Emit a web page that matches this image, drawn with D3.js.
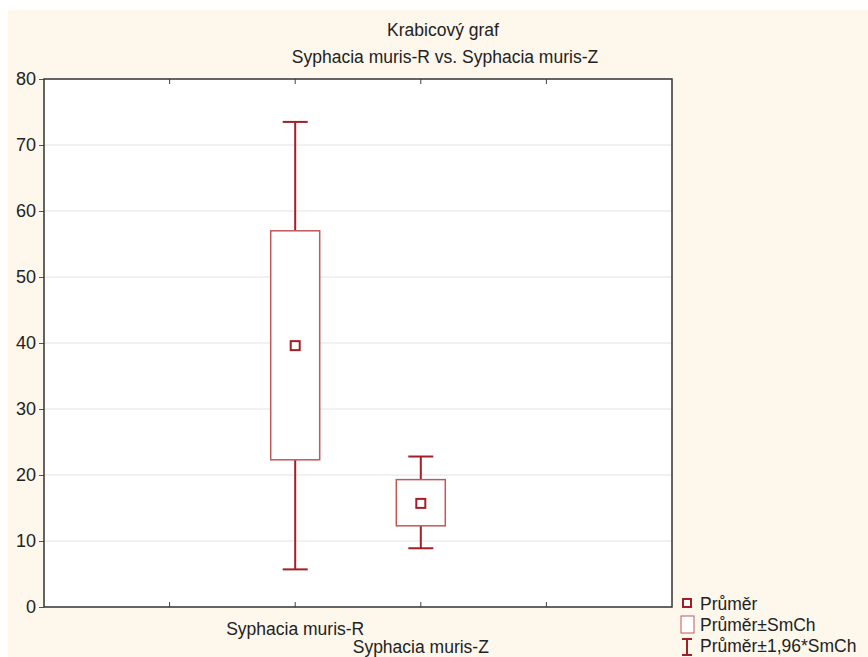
<!DOCTYPE html>
<html>
<head>
<meta charset="utf-8">
<script src="https://d3js.org/d3.v7.min.js"></script>
<style>
  body { margin: 0; background: #fff; }
  text { font-family: "Liberation Sans", Arial, sans-serif; fill: #222; }
</style>
</head>
<body>
<svg id="chart" width="868" height="657"></svg>
<script>
    var categories = ["Syphacia muris-R", "Syphacia muris-Z"];
    var means = [39.6, 15.7];
    var seLow = [22.3, 12.3];
    var seHigh = [57.0, 19.3];
    var ciLow = [5.7, 8.9];
    var ciHigh = [73.5, 22.8];
    var yTicks = [0, 10, 20, 30, 40, 50, 60, 70, 80];
    var legendLabels = ["Průměr", "Průměr±SmCh", "Průměr±1,96*SmCh"];

    var svg = d3.select("#chart");
    var margin = { top: 79, left: 44, right: 196, bottom: 50 };
    var width = 868 - margin.left - margin.right;
    var height = 657 - margin.top - margin.bottom;

    var boxCol = "#c0585a";
    var lineCol = "#a31f27";

    // cream background
    svg.append("rect").attr("x", 8).attr("y", 10).attr("width", 860).attr("height", 647)
        .attr("fill", "#fdf7ec");

    svg.append("text").attr("x", 443).attr("y", 36).attr("text-anchor", "middle")
        .attr("font-size", 17.5).text("Krabicový graf");
    svg.append("text").attr("x", 445).attr("y", 63).attr("text-anchor", "middle")
        .attr("font-size", 17.5).text(categories[0] + " vs. " + categories[1]);

    var g = svg.append("g").attr("transform", "translate(" + margin.left + "," + margin.top + ")");

    var x = d3.scaleLinear().domain([0, 5]).range([0, width]);
    var y = d3.scaleLinear().domain([0, 80]).range([height, 0]);

    g.append("rect").attr("width", width).attr("height", height).attr("fill", "#fff");

    // grid
    g.selectAll(".grid").data(yTicks.slice(1, -1)).enter().append("line")
        .attr("x1", 0).attr("x2", width)
        .attr("y1", d => y(d)).attr("y2", d => y(d))
        .attr("stroke", "#e2e2e2").attr("stroke-width", 1);

    // y axis
    var yAxis = g.append("g").call(d3.axisLeft(y).tickValues(yTicks).tickSize(5).tickPadding(3));
    yAxis.select(".domain").remove();
    yAxis.selectAll("line").attr("stroke", "#555");
    yAxis.selectAll("text").attr("font-size", 18).attr("fill", "#222")
        .style("font-family", "Liberation Sans, Arial, sans-serif");

    // x ticks, bottom and top
    var xt = [1, 2, 3, 4];
    g.selectAll(".xtb").data(xt).enter().append("line")
        .attr("x1", d => x(d)).attr("x2", d => x(d))
        .attr("y1", height).attr("y2", height - 5).attr("stroke", "#444");
    g.selectAll(".xtt").data(xt).enter().append("line")
        .attr("x1", d => x(d)).attr("x2", d => x(d))
        .attr("y1", 0).attr("y2", 5).attr("stroke", "#444");

    // frame
    g.append("rect").attr("width", width).attr("height", height)
        .attr("fill", "none").attr("stroke", "#333").attr("stroke-width", 1.5);

    // category labels (staggered)
    g.selectAll(".cat").data(categories).enter().append("text")
        .attr("x", (d, i) => x(i + 2))
        .attr("y", (d, i) => height + 28 + i * 18)
        .attr("text-anchor", "middle").attr("font-size", 17.5)
        .text(d => d);

    var bw = 49, cap = 25, ms = 9;
    categories.forEach(function (c, i) {
        var cx = x(i + 2);
        // whiskers
        g.append("line").attr("x1", cx).attr("x2", cx).attr("y1", y(ciHigh[i])).attr("y2", y(seHigh[i]))
            .attr("stroke", lineCol).attr("stroke-width", 2);
        g.append("line").attr("x1", cx).attr("x2", cx).attr("y1", y(seLow[i])).attr("y2", y(ciLow[i]))
            .attr("stroke", lineCol).attr("stroke-width", 2);
        [ciHigh[i], ciLow[i]].forEach(function (v) {
            g.append("line").attr("x1", cx - cap / 2).attr("x2", cx + cap / 2)
                .attr("y1", y(v)).attr("y2", y(v))
                .attr("stroke", lineCol).attr("stroke-width", 2);
        });
        // box
        g.append("rect").attr("x", cx - bw / 2).attr("y", y(seHigh[i]))
            .attr("width", bw).attr("height", y(seLow[i]) - y(seHigh[i]))
            .attr("fill", "#fff").attr("stroke", boxCol).attr("stroke-width", 1.5);
        // mean
        g.append("rect").attr("x", cx - ms / 2).attr("y", y(means[i]) - ms / 2)
            .attr("width", ms).attr("height", ms)
            .attr("fill", "#fff").attr("stroke", lineCol).attr("stroke-width", 2);
    });

    // legend
    var lg = svg.append("g").attr("transform", "translate(682,598)");
    lg.append("rect").attr("x", 1).attr("y", 1).attr("width", 8).attr("height", 8)
        .attr("fill", "#fff").attr("stroke", lineCol).attr("stroke-width", 2);
    lg.append("rect").attr("x", -1).attr("y", 18).attr("width", 13).attr("height", 17)
        .attr("fill", "#fff").attr("stroke", boxCol).attr("stroke-width", 1);
    lg.append("line").attr("x1", 5).attr("x2", 5).attr("y1", 41).attr("y2", 57).attr("stroke", lineCol).attr("stroke-width", 2);
    lg.append("line").attr("x1", 0).attr("x2", 10).attr("y1", 41).attr("y2", 41).attr("stroke", lineCol).attr("stroke-width", 2);
    lg.append("line").attr("x1", 0).attr("x2", 10).attr("y1", 57).attr("y2", 57).attr("stroke", lineCol).attr("stroke-width", 2);
    lg.selectAll(".lt").data(legendLabels).enter().append("text")
        .attr("x", 18).attr("y", (d, i) => 12 + i * 21)
        .attr("font-size", 17.5).text(d => d);
</script>
</body>
</html>
